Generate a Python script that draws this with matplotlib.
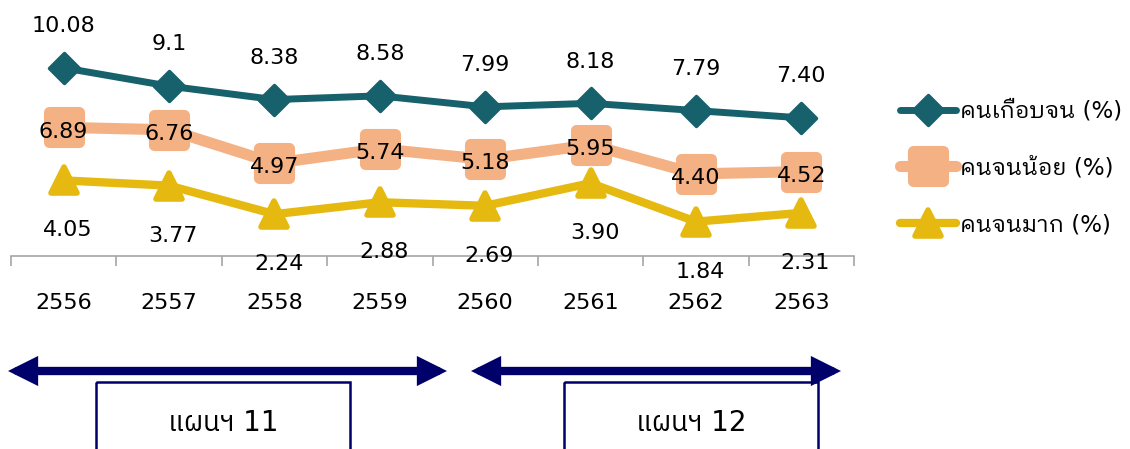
import matplotlib
matplotlib.use('Agg')
import matplotlib.pyplot as plt
from matplotlib.markers import MarkerStyle
from matplotlib.patches import FancyArrowPatch, Rectangle

# data
years = ['2556', '2557', '2558', '2559', '2560', '2561', '2562', '2563']
near_poor = [10.08, 9.1, 8.38, 8.58, 7.99, 8.18, 7.79, 7.40]
less_poor = [6.89, 6.76, 4.97, 5.74, 5.18, 5.95, 4.40, 4.52]
very_poor = [4.05, 3.77, 2.24, 2.88, 2.69, 3.90, 1.84, 2.31]
near_poor_txt = ['10.08', '9.1', '8.38', '8.58', '7.99', '8.18', '7.79', '7.40']
less_poor_txt = ['6.89', '6.76', '4.97', '5.74', '5.18', '5.95', '4.40', '4.52']
very_poor_txt = ['4.05', '3.77', '2.24', '2.88', '2.69', '3.90', '1.84', '2.31']
series_names = ['คนเกือบจน (%)', 'คนจนน้อย (%)', 'คนจนมาก (%)']
plan_names = ['แผนฯ 11', 'แผนฯ 12']

TEAL = '#17616c'
SALMON = '#f4b183'
GOLD = '#e5b90f'
NAVY = '#00006a'
THAI = ['DejaVu Sans', 'IBM Plex Sans Thai Looped']
plt.rcParams['font.family'] = THAI

W, H = 1130, 449
fig = plt.figure(figsize=(W / 100, H / 100), dpi=100)
ax = fig.add_axes([11 / W, 1 - 256 / H, 843 / W, 224 / H])

x = list(range(len(years)))
l1, = ax.plot(x, near_poor, color=TEAL, lw=5, marker=MarkerStyle('D', joinstyle='round'),
              ms=15, mec=TEAL, mew=2.5, solid_joinstyle='round', solid_capstyle='round',
              label=series_names[0])
l2, = ax.plot(x, less_poor, color=SALMON, lw=8, marker=MarkerStyle('s', joinstyle='round'),
              ms=21, mec=SALMON, mew=8, solid_joinstyle='round', solid_capstyle='round',
              label=series_names[1])
l3, = ax.plot(x, very_poor, color=GOLD, lw=6, marker=MarkerStyle('^', joinstyle='round'),
              ms=19, mec=GOLD, mew=4, solid_joinstyle='round', solid_capstyle='round',
              label=series_names[2])

for i in x:
    ax.annotate(near_poor_txt[i], (i, near_poor[i]), xytext=(0, 30), textcoords='offset points',
                ha='center', va='center', fontsize=16)
    ax.annotate(less_poor_txt[i], (i, less_poor[i]), xytext=(0, -3), textcoords='offset points',
                ha='center', va='center', fontsize=16)
    ax.annotate(very_poor_txt[i], (i, very_poor[i]), xytext=(3, -36), textcoords='offset points',
                ha='center', va='center', fontsize=16)

ax.set_xlim(-0.5, len(years) - 0.5)
ax.set_ylim(0, 12)
for s in ['top', 'left', 'right']:
    ax.spines[s].set_visible(False)
ax.spines['bottom'].set_color('#a6a6a6')
ax.spines['bottom'].set_linewidth(1.2)
ax.set_yticks([])
ax.set_xticks(x)
ax.set_xticklabels(years, fontsize=16)
ax.set_xticks([i - 0.5 for i in range(len(years) + 1)], minor=True)
ax.tick_params(axis='x', which='major', length=0, pad=26.5)
ax.tick_params(axis='x', which='minor', length=7, width=1.2, color='#a6a6a6', direction='out')

leg = fig.legend(handles=[l1, l2, l3], loc='center left', bbox_to_anchor=(900 / W, 1 - 168 / H),
                 frameon=False, fontsize=16.5, handlelength=2.45, handletextpad=0.17,
                 labelspacing=1.48, borderpad=0, borderaxespad=0, numpoints=1)

# plan period arrows and boxes, in pixel coordinates of the figure
ov = fig.add_axes([0, 0, 1, 1], zorder=-1)
ov.set_xlim(0, W)
ov.set_ylim(H, 0)
ov.axis('off')
for (x0, x1), (b0, b1), name in zip([(7, 449), (470, 843)], [(96, 350), (564, 818)], plan_names):
    ov.add_patch(FancyArrowPatch((x0 + 1, 371), (x1 - 2, 371),
                                 arrowstyle='<|-|>,head_length=12,head_width=6',
                                 mutation_scale=1, lw=6, color=NAVY, joinstyle='miter',
                                 shrinkA=0, shrinkB=0))
    ov.add_patch(Rectangle((b0, 382), b1 - b0, 80, fill=False, ec=NAVY, lw=1.8))
    ov.text((b0 + b1) / 2, 423, name, ha='center', va='center', fontsize=20,
            family=['DejaVu Sans', 'IBM Plex Sans Thai'])

fig.savefig('out.png', dpi=100)
